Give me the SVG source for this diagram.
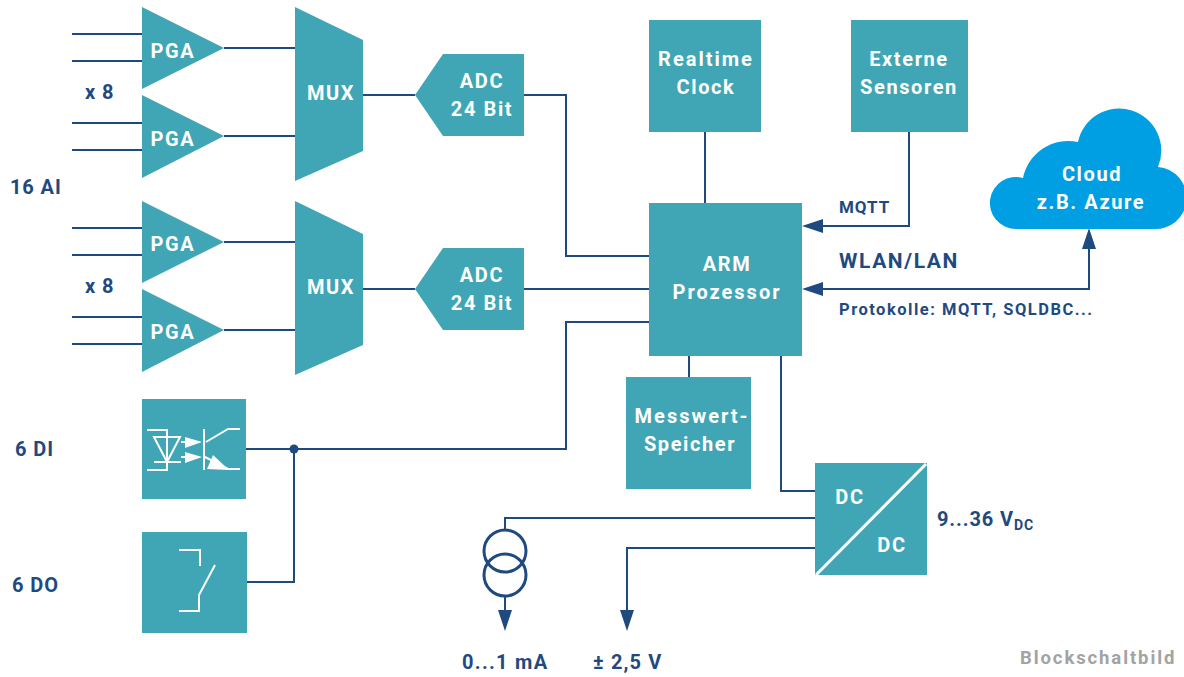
<svg xmlns="http://www.w3.org/2000/svg" width="1184" height="677" viewBox="0 0 1184 677">
<style>
.b{fill:#40a6b5}
.w{fill:#fff;font:700 20px Roboto,"Liberation Sans",sans-serif;letter-spacing:1.6px;text-anchor:middle}
.l{letter-spacing:2px}
.n{fill:#1f4a80;font:700 20px Roboto,"Liberation Sans",sans-serif;letter-spacing:.9px}
.c{fill:none;stroke:#1f4a80;stroke-width:2}
.s{fill:none;stroke:#fff;stroke-width:2}
.a{fill:#1f4a80}
</style>
<rect width="1184" height="677" fill="#fff"/>
<g id="connectors">
<path class="c" d="M72 34H142M72 61H142M72 123H142M72 150H142M72 228H142M72 255H142M72 317H142M72 344H142"/>
<path class="c" d="M224 48H295M224 136H295M224 242H295M224 330H295M363 95H415M363 289H415"/>
<path class="c" d="M524 95H566V256H649M524 289H649M246 449H566V322H649M247 582H294V449"/>
<path class="c" d="M705 132V203M689 356V377M781 356V491H815M909 132V226H820M1089 245V289H820"/>
<path class="c" d="M815 518H505V530M505 597V614M815 548H627V614"/>
<circle class="a" cx="294" cy="449" r="4.5"/>
<path class="a" d="M802 226L823 219V233ZM802 289L823 282V296ZM1089 228L1082 249H1096ZM505 631L498 610H512ZM627 631L620 610H634Z"/>
<circle cx="505" cy="551" r="21" fill="none" stroke="#1f4a80" stroke-width="3"/>
<circle cx="505" cy="575" r="21" fill="none" stroke="#1f4a80" stroke-width="3"/>
</g>
<g id="pga1"><path class="b" d="M142 7L224 48L142 89Z"/><text class="w" x="173" y="58">PGA</text></g>
<g id="pga2"><path class="b" d="M142 95L224 136L142 178Z"/><text class="w" x="173" y="146">PGA</text></g>
<g id="pga3"><path class="b" d="M142 201L224 242L142 283Z"/><text class="w" x="173" y="251">PGA</text></g>
<g id="pga4"><path class="b" d="M142 289L224 330L142 372Z"/><text class="w" x="173" y="339">PGA</text></g>
<g id="mux1"><path class="b" d="M295 7L363 40V151L295 181Z"/><text class="w" x="331" y="100">MUX</text></g>
<g id="mux2"><path class="b" d="M295 201L363 234V345L295 375Z"/><text class="w" x="331" y="294">MUX</text></g>
<g id="adc1"><path class="b" d="M415 95L443 54H524V136H443Z"/><text class="w" x="482" y="88">ADC</text><text class="w" x="482" y="116">24 Bit</text></g>
<g id="adc2"><path class="b" d="M415 289L443 248H524V330H443Z"/><text class="w" x="482" y="282">ADC</text><text class="w" x="482" y="310">24 Bit</text></g>
<g id="rtc"><rect class="b" x="649" y="20" width="112" height="112"/><text class="w l" x="706" y="66">Realtime</text><text class="w" x="706" y="94">Clock</text></g>
<g id="sensoren"><rect class="b" x="851" y="20" width="117" height="112"/><text class="w" x="909" y="66">Externe</text><text class="w" x="909" y="94">Sensoren</text></g>
<g id="arm"><rect class="b" x="649" y="203" width="153" height="153"/><text class="w" x="727" y="271">ARM</text><text class="w l" x="727" y="299">Prozessor</text></g>
<g id="speicher"><rect class="b" x="626" y="377" width="125" height="112"/><text class="w l" x="692" y="423">Messwert-</text><text class="w" x="690" y="451">Speicher</text></g>
<g id="cloud"><path d="M1015 229A26 26 0 1 1 1023 178A46 46 0 0 1 1078 142A42.1 42.1 0 1 1 1158 167A31 31 0 0 1 1153 229Z" fill="#009fe3"/><text class="w" x="1092" y="181">Cloud</text><text class="w" x="1091" y="209">z.B. Azure</text></g>
<g id="optokoppler"><rect class="b" x="142" y="399" width="104" height="100"/>
<path class="s" d="M147 430H167V470H147M154 437H180L167 462ZM154 462H181"/>
<path class="s" d="M181 442H190M181 457H190M204 429V470M206 442L228 429H240M205 457L228 469H240"/>
<path fill="#fff" d="M185 437L202 442L185 448ZM185 452L202 457L185 463ZM207 469L213 455L229 470Z"/></g>
<g id="schalter"><rect class="b" x="142" y="532" width="105" height="101"/><path class="s" d="M179 550H200V566M215 565L199 595V611H179"/></g>
<g id="dcdc"><rect class="b" x="815" y="463" width="112" height="112"/><path d="M816 575L926 464" stroke="#fff" stroke-width="3" fill="none"/><text class="w" x="850" y="504">DC</text><text class="w" x="892" y="552">DC</text></g>
<g id="labels">
<text class="n" x="85" y="99">x 8</text>
<text class="n" x="85" y="293">x 8</text>
<text class="n" x="10" y="194">16 AI</text>
<text class="n" x="15" y="456">6 DI</text>
<text class="n" x="12" y="592">6 DO</text>
<text class="n" x="839" y="213" style="font-size:17px">MQTT</text>
<text class="n" x="839" y="268" style="font-size:21px;letter-spacing:1.6px">WLAN/LAN</text>
<text class="n" x="839" y="315" style="font-size:16.5px;letter-spacing:1.5px">Protokolle: MQTT, SQLDBC...</text>
<text class="n" x="937" y="526">9...36 V<tspan dy="4" style="font-size:14px">DC</tspan></text>
<text class="n" x="462" y="669" style="letter-spacing:1.3px">0...1 mA</text>
<text class="n" x="593" y="669" style="letter-spacing:1.1px">± 2,5 V</text>
<text x="1020" y="664" style="fill:#a3a3a3;font:700 18.5px Roboto,'Liberation Sans',sans-serif;letter-spacing:1.9px">Blockschaltbild</text>
</g>
</svg>
